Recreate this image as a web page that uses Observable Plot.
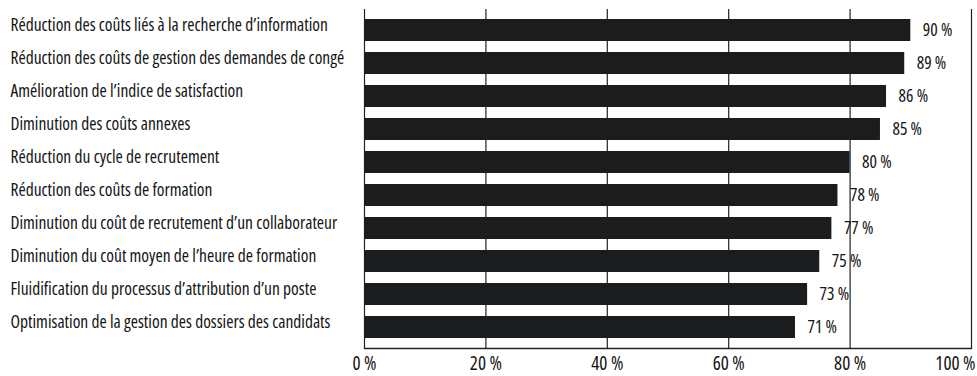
<!DOCTYPE html>
<html>
<head>
<meta charset="utf-8">
<script src="https://cdn.jsdelivr.net/npm/d3@7"></script>
<script src="https://cdn.jsdelivr.net/npm/@observablehq/plot@0.6"></script>
<style>
  html, body { margin: 0; padding: 0; background: #fff; }
  #chart svg { display: block; font-stretch: condensed; }
</style>
</head>
<body>
<div id="chart"></div>
<script>
const categories = [
  "Réduction des coûts liés à la recherche d’information",
  "Réduction des coûts de gestion des demandes de congé",
  "Amélioration de l’indice de satisfaction",
  "Diminution des coûts annexes",
  "Réduction du cycle de recrutement",
  "Réduction des coûts de formation",
  "Diminution du coût de recrutement d’un collaborateur",
  "Diminution du coût moyen de l’heure de formation",
  "Fluidification du processus d’attribution d’un poste",
  "Optimisation de la gestion des dossiers des candidats"
];
const values = [90, 89, 86, 85, 80, 78, 77, 75, 73, 71];
const xTicks = [0, 20, 40, 60, 80, 100];

const data = categories.map((c, i) => ({category: c, value: values[i]}));
const pct = d => `${d} %`;

const FONT = '"Open Sans", "Roboto Condensed", sans-serif';
const marginLeft = 364;

const chart = Plot.plot({
  width: 977,
  height: 376,
  marginLeft,
  marginRight: 6,
  marginTop: 9,
  marginBottom: 28,
  style: {fontFamily: FONT, fontSize: "17px", fontWeight: 500, color: "#141414", background: "#fff"},
  x: {domain: [0, 100]},
  y: {domain: categories, paddingInner: 0.34, paddingOuter: 0.16},
  marks: [
    Plot.ruleX(xTicks, {stroke: "#222", strokeWidth: 1.2}),
    Plot.frame({anchor: "bottom", stroke: "#222", strokeWidth: 1.3}),
    Plot.barX(data, {y: "category", x: "value", fill: "#1b1c1e"}),
    Plot.text(data, {
      y: "category", x: "value", text: d => pct(d.value),
      textAnchor: "start", dx: 12, fontSize: 17.5, fill: "#141414"
    }),
    Plot.axisY({
      tickSize: 0, tickPadding: 0, textAnchor: "start",
      dx: -(marginLeft - 10), dy: -5, fontSize: 17.5, label: null
    }),
    Plot.axisX({
      ticks: xTicks.slice(0, -1), tickFormat: pct, tickSize: 0, tickPadding: 8,
      fontSize: 19, label: null
    }),
    Plot.axisX({
      ticks: xTicks.slice(-1), tickFormat: pct, tickSize: 0, tickPadding: 8,
      textAnchor: "end", dx: 4, fontSize: 19, label: null
    })
  ]
});
document.getElementById("chart").append(chart);
</script>
</body>
</html>
